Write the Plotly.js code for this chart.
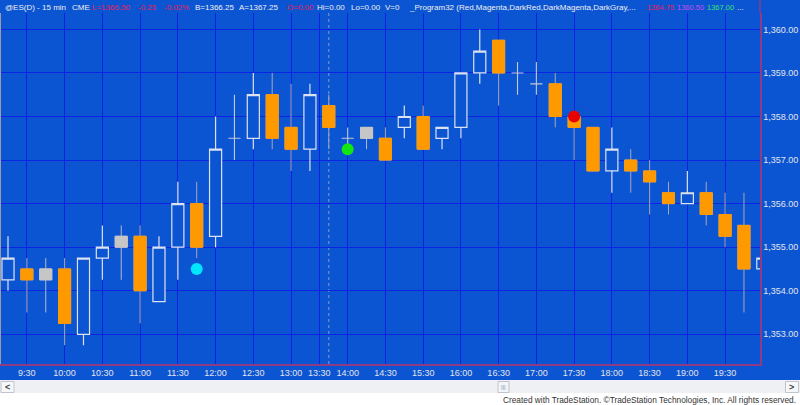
<!DOCTYPE html>
<html><head><meta charset="utf-8">
<script src="https://cdn.plot.ly/plotly-3.0.1.min.js"></script>
<style>html,body{margin:0;padding:0;background:#fff;}#chart{width:800px;height:405px;}</style>
</head><body><div id="chart"></div>
<script>
// ---- data (15-min bars) ----
const barIndex = [0,1,2,3,4,5,6,7,8,9,10,11,12,13,14,15,16,17,18,19,20,21,22,23,24,25,26,27,28,29,30,31,32,33,34,35,36,37,38,39,40];
const opens  = [1354.25,1354.5,1354.5,1354.5,1353.0,1354.75,1355.0,1355.25,1353.75,1355.0,1356.0,1355.25,1357.5,1357.5,1358.5,1357.75,1357.25,1358.25,1357.5,1357.5,1357.5,1357.75,1358.0,1357.5,1357.75,1359.0,1359.75,1359.0,1358.75,1358.75,1358.0,1357.75,1356.75,1357.0,1356.75,1356.25,1356.0,1356.25,1355.75,1355.5,1354.5];
const highs  = [1355.25,1354.75,1354.75,1354.75,1354.75,1355.5,1355.5,1355.5,1355.25,1356.5,1356.5,1358.0,1358.5,1359.0,1359.0,1358.75,1358.75,1358.5,1357.75,1357.75,1357.75,1358.25,1358.25,1357.75,1359.0,1360.0,1359.75,1359.25,1359.25,1359.0,1358.0,1357.75,1357.75,1357.25,1357.0,1356.5,1356.75,1356.5,1356.25,1356.25,1354.75];
const lows   = [1354.0,1353.5,1353.5,1352.75,1352.75,1354.25,1354.25,1353.25,1353.75,1354.25,1354.75,1355.0,1357.0,1357.25,1357.25,1356.75,1356.75,1357.25,1357.25,1357.25,1357.0,1357.5,1357.25,1357.25,1357.5,1358.75,1358.25,1358.5,1358.5,1357.75,1357.0,1356.75,1356.25,1356.25,1355.75,1355.75,1356.0,1355.5,1355.0,1353.5,1354.5];
const closes = [1354.75,1354.25,1354.25,1353.25,1354.75,1355.0,1355.25,1354.0,1355.0,1356.0,1355.0,1357.25,1357.5,1358.5,1357.5,1357.25,1358.5,1357.75,1357.5,1357.75,1357.0,1358.0,1357.25,1357.75,1359.0,1359.5,1359.0,1359.0,1358.75,1358.0,1357.75,1356.75,1357.25,1356.75,1356.5,1356.0,1356.25,1355.75,1355.25,1354.5,1354.75];
// bar category: up (hollow), down (filled), neutral (gray), doji (cross)
const barType = ['up','down','neutral','down','up','up','neutral','down','up','up','down','up','doji','up','down','down','up','down','doji','neutral','down','up','down','up','up','up','down','doji','doji','down','down','down','up','down','down','down','up','down','down','down','up'];

// indicator signal dots
const signalBar   = [10, 18, 30];
const signalPrice = [1354.5, 1357.25, 1358.0];
const signalKind  = ['setup', 'entry', 'exit'];

// time axis labels
const tickBars   = [1,3,5,7,9,11,13,15,16.5,18,20,22,24,26,28,30,32,34,36,38];
const tickLabels = ['9:30','10:00','10:30','11:00','11:30','12:00','12:30','13:00','13:30','14:00','14:30','15:30','16:00','16:30','17:00','17:30','18:00','18:30','19:00','19:30'];
const sessionBreakBar = [17];

// ---- styling ----
const BG = '#0B55D2', GRID = '#0E22E4', FRAME = '#8E3A86';
const ORANGE = '#FF9900', GRAYBODY = '#C6C6C6', HOLLOW = '#DDE2F0';
const FONT = 'Liberation Sans, Arial, sans-serif';
const signalColor = {setup: '#00E6FF', entry: '#12E612', exit: '#E60000'};

function group(type, bodyOnly) {
  const g = {x: [], open: [], high: [], low: [], close: []};
  barIndex.forEach((k, i) => {
    if (barType[i] !== type) return;
    g.x.push(k); g.open.push(opens[i]); g.close.push(closes[i]);
    g.high.push(bodyOnly ? Math.max(opens[i], closes[i]) : highs[i]);
    g.low.push(bodyOnly ? Math.min(opens[i], closes[i]) : lows[i]);
  });
  return g;
}
function candle(g, lineColor, fill, lw) {
  return Object.assign({
    type: 'candlestick', hoverinfo: 'skip', showlegend: false, whiskerwidth: 0,
    increasing: {line: {color: lineColor, width: lw}, fillcolor: fill},
    decreasing: {line: {color: lineColor, width: lw}, fillcolor: fill}
  }, g);
}

const traces = [
  candle(group('up'), HOLLOW, BG, 1.2),
  candle(group('down'), '#A8A8B4', ORANGE, 1),
  candle(group('down', true), ORANGE, ORANGE, 1),
  candle(group('neutral'), '#B4B8C8', GRAYBODY, 1),
  candle(group('neutral', true), GRAYBODY, GRAYBODY, 1),
  candle(group('doji'), '#C4C8D8', BG, 1.1),
  {type: 'scatter', mode: 'markers', hoverinfo: 'skip', showlegend: false,
   x: signalBar, y: signalPrice,
   marker: {size: 12, color: signalKind.map(s => signalColor[s]), line: {width: 0}}}
];

// pixel helpers for paper-anchored decorations (plot: x 0..760, y 13..364)
const PX = px => px / 760;
const PY = py => (364 - py) / 351;

const header = [
  ['@ES(D) - 15 min', 3, '#F0F0F0', 8], ['CME', 70, '#F0F0F0', 8],
  ['L=1366.50', 90, '#E8205A', 8], ['-0.25', 136, '#E8205A', 8], ['-0.02%', 162, '#E8205A', 8],
  ['B=1366.25', 193, '#F0F0F0', 8], ['A=1367.25', 237, '#F0F0F0', 8], ['O=0.00', 285, '#E8205A', 8],
  ['Hi=0.00', 315, '#F0F0F0', 8], ['Lo=0.00', 349, '#F0F0F0', 8], ['V=0', 383, '#F0F0F0', 8],
  ['_Program32 (Red,Magenta,DarkRed,DarkMagenta,DarkGray,...', 407, '#F0F0F0', 8],
  ['1364.75', 645, '#E8205A', 7.5], ['1360.50', 675, '#C84CF0', 7.5], ['1367.00', 705, '#3CE070', 7.5],
  ['...', 735, '#F0F0F0', 8]
];
const annotations = header.map(([t, x, c, s]) => ({
  text: t, xref: 'paper', yref: 'paper', x: PX(x), y: PY(7), xanchor: 'left', yanchor: 'middle',
  showarrow: false, font: {family: FONT, size: s, color: c}
}));
annotations.push({text: 'Created with TradeStation. \u00A9TradeStation Technologies, Inc. All rights reserved.',
  xref: 'paper', yref: 'paper', x: PX(798), y: PY(399.5), xanchor: 'right', yanchor: 'middle',
  showarrow: false, font: {family: FONT, size: 8.3, color: '#333333'}});
annotations.push({text: '<b>&lt;</b>', xref: 'paper', yref: 'paper', x: PX(7.5), y: PY(387), xanchor: 'center', yanchor: 'middle', showarrow: false, font: {family: FONT, size: 9, color: '#404050'}});
annotations.push({text: '<b>&gt;</b>', xref: 'paper', yref: 'paper', x: PX(792), y: PY(387), xanchor: 'center', yanchor: 'middle', showarrow: false, font: {family: FONT, size: 9, color: '#404050'}});
annotations.push({text: '|||', xref: 'paper', yref: 'paper', x: PX(503.5), y: PY(387), xanchor: 'center', yanchor: 'middle', showarrow: false, font: {family: FONT, size: 6, color: '#8090A8'}});

const shapes = [
  {type: 'rect', xref: 'paper', yref: 'paper', x0: PX(0), x1: PX(800), y0: PY(380), y1: PY(393), fillcolor: '#EEF0F3', line: {width: 0}, layer: 'below'},
  {type: 'rect', xref: 'paper', yref: 'paper', x0: PX(0), x1: PX(800), y0: PY(393), y1: PY(405), fillcolor: '#FFFFFF', line: {width: 0}, layer: 'below'},
  {type: 'rect', xref: 'paper', yref: 'paper', x0: PX(1), x1: PX(14), y0: PY(381.5), y1: PY(392.5), fillcolor: '#F6F7F9', line: {width: 1, color: '#C0C4CC'}},
  {type: 'rect', xref: 'paper', yref: 'paper', x0: PX(785.5), x1: PX(798.5), y0: PY(381.5), y1: PY(392.5), fillcolor: '#F6F7F9', line: {width: 1, color: '#C0C4CC'}},
  {type: 'rect', xref: 'paper', yref: 'paper', x0: PX(498), x1: PX(509), y0: PY(381.5), y1: PY(392.5), fillcolor: '#F2F4F7', line: {width: 1, color: '#C0C4CC'}},
  {type: 'line', xref: 'paper', yref: 'paper', x0: PX(0.5), x1: PX(0.5), y0: PY(13), y1: PY(364), line: {width: 1, color: '#9C9CA8'}},
  {type: 'line', xref: 'paper', yref: 'paper', x0: PX(760), x1: PX(760), y0: PY(0), y1: PY(13), line: {width: 1.5, color: FRAME}}
];
sessionBreakBar.forEach(b => shapes.push({type: 'line', xref: 'x', yref: 'paper', x0: b, x1: b, y0: 0, y1: 1, layer: 'between',
  line: {width: 1, dash: 'dot', color: 'rgba(150,160,200,0.9)'}}));

const layout = {
  width: 800, height: 405,
  margin: {l: 0, r: 40, t: 13, b: 41, pad: 0},
  paper_bgcolor: BG, plot_bgcolor: BG,
  boxgap: 0.36, boxgroupgap: 0,
  showlegend: false,
  font: {family: FONT, size: 9, color: '#E4E4E8'},
  xaxis: {
    range: [-0.424, 39.85], tickmode: 'array', tickvals: tickBars, ticktext: tickLabels,
    showgrid: true, gridcolor: GRID, gridwidth: 1, zeroline: false, ticks: '',
    showline: true, linecolor: FRAME, linewidth: 1.5,
    tickfont: {family: FONT, size: 9, color: '#E4E4E8'},
    rangeslider: {visible: false}, fixedrange: true
  },
  yaxis: {
    side: 'right', range: [1352.318, 1360.376], tick0: 1353, dtick: 1, tickformat: ',.2f',
    showgrid: true, gridcolor: GRID, gridwidth: 1, zeroline: false, ticks: '',
    showline: true, linecolor: FRAME, linewidth: 1.5,
    tickfont: {family: FONT, size: 9, color: '#E4E4E8'}, fixedrange: true
  },
  annotations: annotations,
  shapes: shapes
};

Plotly.newPlot('chart', traces, layout, {displayModeBar: false, staticPlot: true});
</script>
</body></html>
